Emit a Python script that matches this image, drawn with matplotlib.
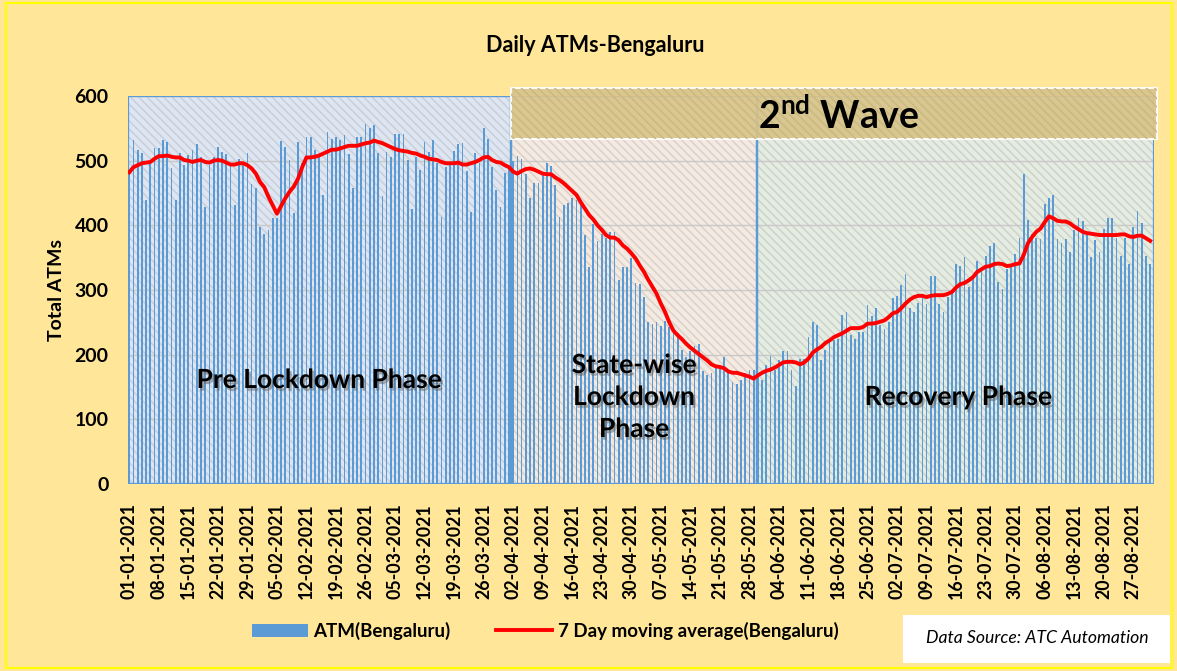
import numpy as np
import pandas as pd
import matplotlib
matplotlib.use("Agg")
import matplotlib.pyplot as plt
from matplotlib.patches import Rectangle
from matplotlib import patheffects

# Daily ATM counts, Bengaluru, 01-01-2021 .. 31-08-2021
atm_bengaluru = [
    480, 532, 517, 512, 439, 498, 519, 519, 532, 529,
    488, 439, 512, 493, 508, 516, 525, 506, 428, 493,
    505, 521, 514, 510, 493, 431, 502, 498, 512, 464,
    457, 398, 386, 393, 412, 411, 531, 521, 501, 419,
    529, 496, 537, 537, 516, 508, 447, 545, 533, 537,
    532, 540, 511, 457, 536, 537, 556, 551, 555, 512,
    445, 514, 506, 542, 542, 542, 501, 425, 506, 486,
    529, 514, 532, 496, 413, 490, 493, 515, 525, 528,
    484, 420, 512, 496, 551, 533, 490, 454, 429, 481,
    490, 500, 507, 502, 480, 442, 466, 465, 478, 497,
    492, 462, 413, 431, 434, 442, 439, 434, 385, 336,
    402, 375, 387, 380, 390, 390, 315, 336, 336, 349,
    311, 310, 289, 251, 248, 251, 245, 252, 243, 235,
    233, 207, 197, 205, 213, 217, 174, 168, 171, 184,
    181, 196, 176, 158, 155, 161, 171, 176, 176, 168,
    161, 184, 198, 176, 192, 205, 205, 176, 151, 194,
    194, 228, 250, 246, 192, 207, 225, 223, 225, 261,
    266, 230, 225, 235, 235, 277, 260, 272, 246, 239,
    251, 287, 291, 308, 325, 272, 266, 280, 287, 279,
    322, 322, 279, 266, 289, 300, 340, 337, 351, 305,
    320, 345, 336, 352, 368, 372, 313, 301, 333, 338,
    355, 380, 480, 409, 387, 380, 379, 433, 443, 447,
    379, 372, 379, 358, 393, 412, 407, 385, 351, 377,
    359, 395, 412, 412, 380, 352, 380, 340, 397, 422,
    404, 352, 340,
]

# 7 day moving average as drawn (red line)
moving_avg_7d = [
    482, 490, 493, 496, 497, 498, 503, 507, 507, 508,
    506, 505, 505, 501, 500, 498, 500, 501, 498, 497,
    500, 501, 500, 497, 494, 494, 496, 496, 493, 488,
    480, 467, 459, 444, 431, 418, 430, 442, 452, 460,
    472, 490, 505, 505, 506, 508, 511, 514, 517, 517,
    519, 521, 523, 523, 523, 525, 527, 528, 531, 529,
    527, 524, 521, 518, 516, 515, 514, 512, 511, 508,
    506, 503, 502, 501, 498, 496, 496, 496, 497, 494,
    494, 496, 498, 501, 505, 506, 501, 498, 497, 493,
    490, 483, 480, 484, 487, 488, 486, 483, 480, 479,
    479, 474, 470, 465, 459, 453, 447, 436, 426, 416,
    409, 400, 393, 385, 381, 381, 377, 369, 364, 357,
    349, 338, 328, 316, 305, 294, 279, 266, 250, 237,
    230, 224, 217, 211, 206, 201, 196, 191, 185, 182,
    181, 179, 174, 172, 172, 170, 168, 166, 163, 168,
    172, 175, 177, 180, 184, 188, 189, 189, 188, 185,
    188, 194, 203, 208, 212, 218, 222, 227, 230, 233,
    237, 241, 241, 241, 243, 248, 248, 249, 251, 253,
    258, 264, 266, 272, 279, 285, 289, 291, 291, 289,
    291, 292, 292, 292, 294, 297, 304, 309, 311, 315,
    320, 328, 332, 336, 337, 340, 341, 340, 337, 338,
    340, 341, 354, 372, 382, 390, 395, 405, 414, 411,
    407, 406, 406, 403, 398, 394, 390, 388, 387, 386,
    385, 385, 385, 385, 385, 386, 386, 383, 382, 384,
    384, 380, 376,
]

start_date = "2021-01-01"
y_ticks = [0, 100, 200, 300, 400, 500, 600]

phase_labels = ["Pre Lockdown Phase", "State-wise\nLockdown\nPhase", "Recovery Phase"]
phase_colors = ["#DDE6F2", "#F4EAE1", "#E5ECE1"]
phase_hatch = ["#CACFD7", "#D9D1CB", "#CDD3CB"]

W, H = 1177, 671


def fx(px):
    return px / W


def fy(py):
    return 1 - py / H


plt.rcParams['font.family'] = ['Lato', 'DejaVu Sans']
plt.rcParams['hatch.linewidth'] = 1.1
plt.rcParams['mathtext.fontset'] = 'custom'
plt.rcParams['mathtext.bf'] = 'Lato:bold'
plt.rcParams['mathtext.rm'] = 'Lato'

fig = plt.figure(figsize=(W / 100, H / 100), dpi=100)
fig.patch.set_facecolor("#FFE699")
fig.add_artist(Rectangle((fx(6), fy(668)), fx(1172 - 6), (668 - 3) / H, transform=fig.transFigure,
                         fill=False, edgecolor="#FFFF00", lw=1.5))

ax = fig.add_axes([fx(128), fy(484), fx(1154 - 128), (484 - 96) / H])
ax.set_facecolor("none")

days = np.arange(len(atm_bengaluru))
dates = pd.date_range(start_date, periods=len(atm_bengaluru), freq="D")

x_left, x_right = -0.3, 242.9
phase_edges = [x_left, 90.5, 148.9, x_right]

# phase backgrounds: plain fill + diagonal hatch + blue frame
for i in range(3):
    x0, x1 = phase_edges[i], phase_edges[i + 1]
    ax.add_patch(Rectangle((x0, 0), x1 - x0, 600, facecolor=phase_colors[i], lw=0, zorder=0))
    ax.add_patch(Rectangle((x0, 0), x1 - x0, 600, fill=False, hatch='\\\\\\\\',
                           edgecolor=phase_hatch[i], lw=0, zorder=0.1))
    ax.add_patch(Rectangle((x0, 0), x1 - x0, 600, fill=False, edgecolor="#5B9BD5",
                           lw=1.6, zorder=2.5))

bars = ax.bar(days, atm_bengaluru, width=0.42, color="#5B9BD5", zorder=2,
              label="ATM(Bengaluru)")
line, = ax.plot(days, moving_avg_7d, color="#FF0000", lw=2.8, zorder=4,
                solid_joinstyle="round", label="7 Day moving average(Bengaluru)")

ax.set_xlim(x_left, x_right)
ax.set_ylim(0, 600)
ax.set_yticks(y_ticks)
ax.set_yticklabels([str(v) for v in y_ticks], fontweight="bold", fontsize=14)
tick_days = days[::7]
ax.set_xticks(tick_days)
ax.set_xticklabels(dates[::7].strftime("%d-%m-%Y"), rotation=90, fontweight="bold", fontsize=12.8)
ax.tick_params(axis="both", length=0)
ax.tick_params(axis="x", pad=14)
ax.tick_params(axis="y", pad=14)
ax.yaxis.grid(True, color="#C8C8C8", lw=1)
ax.set_axisbelow(True)
for s in ax.spines.values():
    s.set_visible(False)

# 2nd wave banner
ax.add_patch(Rectangle((90.5, 533), 243.7 - 90.5, 79, facecolor="#D8C48C", alpha=0.92,
                       edgecolor="white", lw=1.5, zorder=5, clip_on=False))
ax.add_patch(Rectangle((90.5, 533), 243.7 - 90.5, 79, fill=False, hatch='\\\\\\\\',
                       edgecolor="#CCB97F", lw=0, zorder=5.1, clip_on=False))
fig.text(fx(838), fy(116), r"2$^{\mathbf{nd}}$ Wave", fontsize=27, fontweight="bold",
         ha="center", va="center", zorder=6)

shadow = [patheffects.withSimplePatchShadow(offset=(1.5, -2), shadow_rgbFace="0.35", alpha=0.45)]
fig.text(fx(319), fy(380), phase_labels[0], fontsize=19, fontweight="bold",
         ha="center", va="center", path_effects=shadow, zorder=6)
fig.text(fx(634), fy(397), phase_labels[1], fontsize=19, fontweight="bold",
         ha="center", va="center", linespacing=1.4, path_effects=shadow, zorder=6)
fig.text(fx(958), fy(397), phase_labels[2], fontsize=19, fontweight="bold",
         ha="center", va="center", path_effects=shadow, zorder=6)

fig.text(fx(595), fy(45), "Daily ATMs-Bengaluru", fontsize=15.5, fontweight="bold",
         ha="center", va="center")
fig.text(fx(57), fy(290), "Total ATMs", fontsize=14, fontweight="bold", rotation=90,
         ha="center", va="center")

fig.legend([bars, line], [bars.get_label(), line.get_label()], loc="center",
           bbox_to_anchor=(fx(545), fy(631)), ncol=2, frameon=False,
           prop={"weight": "bold", "size": 13.5}, handlelength=3.0, handletextpad=0.3,
           columnspacing=2.4)

fig.add_artist(Rectangle((fx(903), fy(663)), fx(1170 - 903), (663 - 615) / H,
                         transform=fig.transFigure, facecolor="white", edgecolor="none"))
fig.text(fx(1037), fy(638), "Data Source: ATC Automation", fontsize=12.7, style="italic",
         ha="center", va="center")

fig.savefig("out.png", dpi=100, facecolor=fig.get_facecolor())
